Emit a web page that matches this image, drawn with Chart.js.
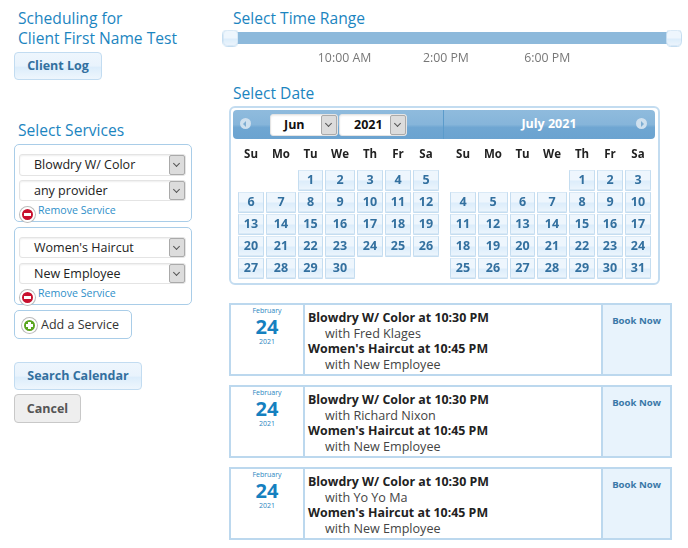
<!DOCTYPE html>
<html>
<head>
<meta charset="utf-8">
<title>Scheduling</title>
<script src="https://cdn.jsdelivr.net/npm/chart.js@4/dist/chart.umd.js"></script>
<style>
html, body { margin: 0; padding: 0; background: #fff; }
body { width: 688px; height: 548px; position: relative; overflow: hidden; font-family: "Open Sans", sans-serif; color: #222; }
.abs, h2, .box, .btn, .sel, .ico, .rm, canvas { position: absolute; }
h2 { margin: 0; font-weight: 400; font-size: 15.6px; line-height: 20px; color: #1c85bf; white-space: nowrap; }
.box { box-sizing: border-box; border: 1px solid #a9cde8; border-radius: 5px; background: #fff; }
.btn { box-sizing: border-box; border: 1px solid #c2dcf1; border-radius: 4px; background: linear-gradient(#eef6fd 0%, #e9f3fc 50%, #dcedfb 55%, #eef6fd 100%); color: #33709f; font-weight: 700; font-size: 12.5px; text-align: center; }
.btn.grey { background: #eeeeee; border-color: #c8c8c8; color: #555; }
.sel { box-sizing: border-box; border: 1px solid #e4e4e4; border-radius: 3px; background: #fff; font-size: 12.5px; line-height: 20px; color: #222; padding-left: 14px; white-space: nowrap; box-shadow: inset 0 1px 2px #eee; }
.sel i { position: absolute; right: 0; top: 0; bottom: 0; width: 14px; background: #dcdcdc; border: 1px solid #aaa; border-radius: 2px; }
.sel i:after { content: ""; position: absolute; left: 4px; top: 5px; width: 4px; height: 4px; border-right: 1px solid #555; border-bottom: 1px solid #555; transform: rotate(45deg); }
.ico { width: 11px; height: 11px; border-radius: 50%; border: 2px solid #fff; box-shadow: 0 0 0 1px #bbb; }
.ico:after { content: ""; position: absolute; left: 2px; top: 4px; width: 7px; height: 3px; background: #fff; }
.ico.add:before { content: ""; position: absolute; left: 4px; top: 2px; width: 3px; height: 7px; background: #fff; }
.rm { font-size: 10.6px; color: #2f8fc9; line-height: 14px; white-space: nowrap; }
#calFrame { left: 229px; top: 106px; width: 427px; height: 175px; border: 2px solid #c3dcf0; border-radius: 6px; }
.hdr { top: 110px; height: 29px; background: linear-gradient(#8fbbdd 0%, #86b5da 50%, #6fa6d2 60%, #6ba3d0 100%); }
.arrow { top: 118px; width: 11px; height: 11px; border-radius: 50%; background: #cfe0ee; }
.arrow:after { content: ""; position: absolute; top: 2.5px; border: 3px solid transparent; }
.arrow.prev:after { left: 0; border-right-color: #7fadd2; }
.arrow.next:after { left: 5px; border-left-color: #7fadd2; }
.card { left: 229px; width: 443px; height: 73px; box-sizing: border-box; border: 2px solid #bcd8ee; }
.card .d { position: absolute; left: 0; top: 0; width: 72px; height: 69px; border-right: 2px solid #bcd8ee; text-align: center; color: #2a86c0; }
.card .m { position: absolute; left: 77px; top: 5px; font-size: 12.6px; line-height: 15.5px; color: #444; white-space: nowrap; }
.card .m b { color: #222; font-size: 12.4px; }
.card .m span { padding-left: 17px; }
.card .b { position: absolute; right: 0; top: 0; width: 67px; height: 69px; border-left: 2px solid #bcd8ee; background: #e8f3fc; text-align: center; font-size: 9.6px; font-weight: 700; color: #3a78a8; line-height: 32px; }
</style>
</head>
<body>
<h2 style="left:18px;top:8px">Scheduling for</h2>
<h2 style="left:18px;top:28px">Client First Name Test</h2>
<div class="btn" style="left:14px;top:52px;width:88px;height:28px;line-height:26px">Client Log</div>
<h2 style="left:18px;top:120px">Select Services</h2>

<div class="box" style="left:14px;top:144px;width:178px;height:78px"></div>
<div class="sel" style="left:19px;top:154px;width:167px;height:22px">Blowdry W/ Color<i></i></div>
<div class="sel" style="left:19px;top:180px;width:167px;height:21px">any provider<i></i></div>
<div class="ico" style="left:20px;top:207px;background:#c8102e"></div>
<div class="rm" style="left:38px;top:203px">Remove Service</div>

<div class="box" style="left:14px;top:227px;width:178px;height:78px"></div>
<div class="sel" style="left:19px;top:237px;width:167px;height:21px">Women's Haircut<i></i></div>
<div class="sel" style="left:19px;top:263px;width:167px;height:21px">New Employee<i></i></div>
<div class="ico" style="left:20px;top:290px;background:#c8102e"></div>
<div class="rm" style="left:38px;top:286px">Remove Service</div>

<div class="box" style="left:14px;top:310px;width:118px;height:29px"></div>
<div class="ico add" style="left:22px;top:318px;background:#5aa51e"></div>
<div class="abs" style="left:41px;top:315px;font-size:12.5px;line-height:20px;color:#333">Add a Service</div>
<div class="btn" style="left:14px;top:362px;width:128px;height:28px;line-height:26px">Search Calendar</div>
<div class="btn grey" style="left:14px;top:394px;width:67px;height:29px;line-height:27px">Cancel</div>

<h2 style="left:233px;top:8px">Select Time Range</h2>
<canvas id="timeChart" style="left:222px;top:27px"></canvas>

<h2 style="left:233px;top:83px">Select Date</h2>
<div id="calFrame" class="abs"></div>
<div class="abs hdr" style="left:233px;width:210px;border-radius:4px 0 0 4px"></div>
<div class="abs hdr" style="left:443px;width:212px;border-radius:0 4px 4px 0;border-left:1px solid #5b9bcb;box-sizing:border-box"></div>
<div class="abs arrow prev" style="left:240px"></div>
<div class="abs arrow next" style="left:636px"></div>
<div class="sel" style="left:270px;top:114px;width:68px;height:22px;font-weight:700;padding-left:13px;color:#111">Jun<i></i></div>
<div class="sel" style="left:339px;top:114px;width:68px;height:22px;font-weight:700;padding-left:14px;color:#111">2021<i></i></div>
<div class="abs" style="left:443px;width:212px;top:114px;text-align:center;color:#fff;font-weight:700;font-size:12.5px;line-height:20px">July 2021</div>
<canvas id="juneChart" style="left:237px;top:145px"></canvas>
<canvas id="julyChart" style="left:449px;top:145px"></canvas>

<div id="results"></div>

<script>
var weekDays = ['Su', 'Mo', 'Tu', 'We', 'Th', 'Fr', 'Sa'];
var weekRows = ['w1', 'w2', 'w3', 'w4', 'w5'];
var juneDays = [
    [null, null, 1, 2, 3, 4, 5],
    [6, 7, 8, 9, 10, 11, 12],
    [13, 14, 15, 16, 17, 18, 19],
    [20, 21, 22, 23, 24, 25, 26],
    [27, 28, 29, 30, null, null, null]
];
var julyDays = [
    [null, null, null, null, 1, 2, 3],
    [4, 5, 6, 7, 8, 9, 10],
    [11, 12, 13, 14, 15, 16, 17],
    [18, 19, 20, 21, 22, 23, 24],
    [25, 26, 27, 28, 29, 30, 31]
];
var timeRange = [5.5, 23];
var timeTicks = [10, 14, 18];
var timeLabels = ['10:00 AM', '2:00 PM', '6:00 PM'];
var resultProviders = ['Fred Klages', 'Richard Nixon', 'Yo Yo Ma'];
var resultTops = [303, 385, 467];

// table columns are not equal width, the text decides it
var columnWidths = [28, 32, 27, 32, 28, 28, 28];

class TableColumnScale extends Chart.CategoryScale {
    getPixelForValue(value) {
        var i = typeof value === 'number' ? value : this.parse(value);
        var before = 0;
        for (var c = 0; c < i; c++) before += columnWidths[c];
        return this.left + before + columnWidths[i] / 2;
    }
    getPixelForTick(index) {
        return this.getPixelForValue(this.ticks[index].value);
    }
}
TableColumnScale.id = 'tableColumn';
TableColumnScale.defaults = {};
Chart.register(TableColumnScale);

function makeBox(w, h, top, bottom, border, radius) {
    var c = document.createElement('canvas');
    c.width = w;
    c.height = h;
    var g = c.getContext('2d');
    var grad = g.createLinearGradient(0, 0, 0, h);
    grad.addColorStop(0, top);
    grad.addColorStop(0.5, top);
    grad.addColorStop(0.55, bottom);
    grad.addColorStop(1, top);
    g.fillStyle = grad;
    g.strokeStyle = border;
    g.lineWidth = 1;
    g.beginPath();
    g.roundRect(0.5, 0.5, w - 1, h - 1, radius);
    g.fill();
    g.stroke();
    return c;
}

var cellImages = {};
function cellImage(width) {
    if (!cellImages[width]) cellImages[width] = makeBox(width, 21, '#eef6fd', '#dcedfb', '#c5ddf0', 0);
    return cellImages[width];
}

var dayTextPlugin = {
    id: 'dayText',
    afterDatasetsDraw: function (chart) {
        var ctx = chart.ctx;
        var meta = chart.getDatasetMeta(0);
        var data = chart.data.datasets[0].data;
        ctx.save();
        ctx.font = '700 12.5px "Open Sans"';
        ctx.fillStyle = '#33709f';
        ctx.textAlign = 'center';
        ctx.textBaseline = 'middle';
        meta.data.forEach(function (el, i) {
            ctx.fillText(data[i].day, el.x, el.y);
        });
        ctx.restore();
    }
};

function monthChart(id, days) {
    var cells = [];
    days.forEach(function (row, r) {
        row.forEach(function (day, c) {
            if (day !== null) cells.push({ x: weekDays[c], y: weekRows[r], day: day, col: c });
        });
    });
    var canvas = document.getElementById(id);
    return new Chart(canvas, {
        type: 'scatter',
        plugins: [dayTextPlugin],
        data: {
            datasets: [{
                data: cells,
                clip: false,
                pointRadius: 10,
                pointHoverRadius: 10,
                pointStyle: function (ctx) {
                    return cellImage(columnWidths[ctx.raw.col] - 2);
                }
            }]
        },
        options: {
            responsive: false,
            animation: false,
            events: [],
            layout: { padding: 0, autoPadding: false },
            plugins: { legend: { display: false }, tooltip: { enabled: false } },
            scales: {
                x: {
                    type: 'tableColumn',
                    labels: weekDays,
                    position: 'top',
                    offset: true,
                    grid: { display: false, tickLength: 7 },
                    border: { display: false },
                    afterFit: function (s) { s.height = 24; },
                    ticks: {
                        padding: 0,
                        maxRotation: 0,
                        autoSkip: false,
                        color: '#222',
                        font: { family: '"Open Sans"', size: 11.5, weight: '700' }
                    }
                },
                y: {
                    type: 'category',
                    labels: weekRows,
                    offset: true,
                    display: false
                }
            }
        }
    });
}

function timeChart() {
    var canvas = document.getElementById('timeChart');
    var handle = makeBox(16, 17, '#eef6fd', '#dcedfb', '#c5ddf0', 4);
    return new Chart(canvas, {
        type: 'scatter',
        data: {
            datasets: [{
                data: timeRange.map(function (t) { return { x: t, y: 0 }; }),
                showLine: true,
                clip: false,
                borderColor: '#8db9db',
                borderWidth: 12,
                borderCapStyle: 'butt',
                pointStyle: handle,
                pointRadius: 8,
                pointHoverRadius: 8
            }]
        },
        options: {
            responsive: false,
            animation: false,
            events: [],
            layout: { padding: 0, autoPadding: false },
            plugins: { legend: { display: false }, tooltip: { enabled: false } },
            scales: {
                x: {
                    type: 'linear',
                    min: 5.165,
                    max: 23.316,
                    grid: { display: false, drawTicks: false },
                    border: { display: false },
                    afterBuildTicks: function (s) {
                        s.ticks = timeTicks.map(function (v) { return { value: v }; });
                    },
                    afterFit: function (s) { s.height = 20; },
                    ticks: {
                        padding: 2,
                        maxRotation: 0,
                        color: '#777',
                        font: { family: '"Open Sans"', size: 12.3 },
                        callback: function (v) { return timeLabels[timeTicks.indexOf(v)]; }
                    }
                },
                y: { min: -1, max: 1, display: false }
            }
        }
    });
}

function sizeCanvas(id, w, h) {
    var c = document.getElementById(id);
    c.width = w;
    c.height = h;
    c.style.width = w + 'px';
    c.style.height = h + 'px';
}

function renderResults() {
    var html = '';
    for (var i = 0; i < resultProviders.length; i++) {
        html += '<div class="abs card" style="top:' + resultTops[i] + 'px">' +
            '<div class="d"><div style="font-size:7px;line-height:10px;margin-top:1px">February</div>' +
            '<div style="font-size:20px;font-weight:700;line-height:21px;margin-top:0;color:#1580bf">24</div>' +
            '<div style="font-size:7px;line-height:10px;margin-top:0">2021</div></div>' +
            '<div class="m"><b>Blowdry W/ Color at 10:30 PM</b><br><span>with ' + resultProviders[i] + '</span><br>' +
            '<b>Women\'s Haircut at 10:45 PM</b><br><span>with New Employee</span></div>' +
            '<div class="b">Book Now</div></div>';
    }
    document.getElementById('results').innerHTML = html;
}

sizeCanvas('timeChart', 460, 42);
sizeCanvas('juneChart', 203, 134);
sizeCanvas('julyChart', 203, 134);
timeChart();
monthChart('juneChart', juneDays);
monthChart('julyChart', julyDays);
renderResults();
</script>
</body>
</html>
